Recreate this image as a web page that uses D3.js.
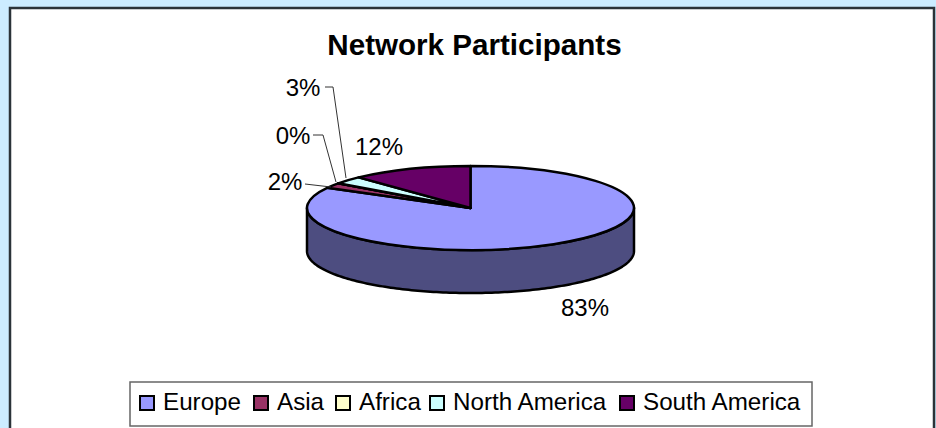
<!DOCTYPE html>
<html>
<head>
<meta charset="utf-8">
<script src="https://cdn.jsdelivr.net/npm/d3@7"></script>
<style>
  html, body { margin: 0; padding: 0; background: #ccecff; }
  svg { display: block; }
  text { font-family: "Liberation Sans", Arial, sans-serif; fill: #000; }
</style>
</head>
<body>
<script>
// chart data
var categories = ["Europe", "Asia", "Africa", "North America", "South America"];
var values = [83, 2, 0, 3, 12];
var colors = ["#9999ff", "#993366", "#ffffcc", "#ccffff", "#660066"];
var sideColors = ["#4d4d80", "#4d1a33", "#808066", "#668080", "#330033"];
var title = "Network Participants";

// set the dimensions of the page and the pie
var width = 936, height = 428;
var cx = 470.5, cy = 208, rx = 163.5, ry = 42, depth = 43;

var svg = d3.select("body").append("svg")
  .attr("width", width)
  .attr("height", height);

// white panel with the dark frame on top, left and right
svg.append("rect")
  .attr("x", 10).attr("y", 8)
  .attr("width", width - 12).attr("height", height)
  .attr("fill", "#fff")
  .attr("stroke", "#2b3338")
  .attr("stroke-width", 2.5);

svg.append("text")
  .attr("x", 474.5).attr("y", 55)
  .attr("text-anchor", "middle")
  .attr("font-size", 29.6)
  .attr("font-weight", "bold")
  .text(title);

var pie = d3.pie().sort(null)(values);

var plot = svg.append("g")
  .attr("transform", "translate(" + cx + "," + cy + ")");

// side wall, only the part of each slice that faces the front
var side = d3.area()
  .x(function(a) { return rx * Math.sin(a); })
  .y0(function(a) { return -ry * Math.cos(a); })
  .y1(function(a) { return -ry * Math.cos(a) + depth; });

pie.forEach(function(d) {
  var a0 = Math.max(d.startAngle, Math.PI / 2);
  var a1 = Math.min(d.endAngle, 3 * Math.PI / 2);
  if (a1 <= a0) return;
  plot.append("path")
    .attr("d", side(d3.range(a0, a1, 0.02).concat([a1])))
    .attr("fill", sideColors[d.index])
    .attr("stroke", "#000")
    .attr("stroke-width", 2.5)
    .attr("stroke-linejoin", "round");
});

// top of the pie, a normal arc squashed into an ellipse
var arc = d3.arc().innerRadius(0).outerRadius(rx);

plot.append("g")
  .attr("transform", "scale(1," + (ry / rx) + ")")
  .selectAll("path")
  .data(pie)
  .enter().append("path")
  .attr("d", arc)
  .attr("fill", function(d) { return colors[d.index]; })
  .attr("stroke", "#000")
  .attr("stroke-width", 2.5)
  .attr("stroke-linejoin", "round")
  .attr("vector-effect", "non-scaling-stroke");

// percentage labels and their leader lines
var labelPos = [
  { x: 585, y: 316 },
  { x: 285, y: 190 },
  { x: 293, y: 144 },
  { x: 303, y: 96 },
  { x: 379, y: 155 }
];
var leaders = [
  null,
  [[305, 184], [331, 187]],
  [[313, 135], [323, 135], [336, 182]],
  [[325, 87], [333, 87], [346, 178]],
  null
];

svg.selectAll(".pct")
  .data(values)
  .enter().append("text")
  .attr("class", "pct")
  .attr("x", function(d, i) { return labelPos[i].x; })
  .attr("y", function(d, i) { return labelPos[i].y; })
  .attr("text-anchor", "middle")
  .attr("font-size", 24)
  .text(function(d) { return d + "%"; });

leaders.forEach(function(l) {
  if (!l) return;
  svg.append("path")
    .attr("d", d3.line()(l))
    .attr("fill", "none")
    .attr("stroke", "#333")
    .attr("stroke-width", 1);
});

// legend
svg.append("rect")
  .attr("x", 130).attr("y", 382)
  .attr("width", 682).attr("height", 44)
  .attr("fill", "#fff")
  .attr("stroke", "#666")
  .attr("stroke-width", 1.5);

var legendX = [140, 254, 336, 430, 620];
categories.forEach(function(c, i) {
  svg.append("rect")
    .attr("x", legendX[i]).attr("y", 396)
    .attr("width", 14).attr("height", 14)
    .attr("fill", colors[i])
    .attr("stroke", "#000")
    .attr("stroke-width", 2);
  svg.append("text")
    .attr("x", legendX[i] + 23).attr("y", 410)
    .attr("font-size", 24.2)
    .text(c);
});
</script>
</body>
</html>
